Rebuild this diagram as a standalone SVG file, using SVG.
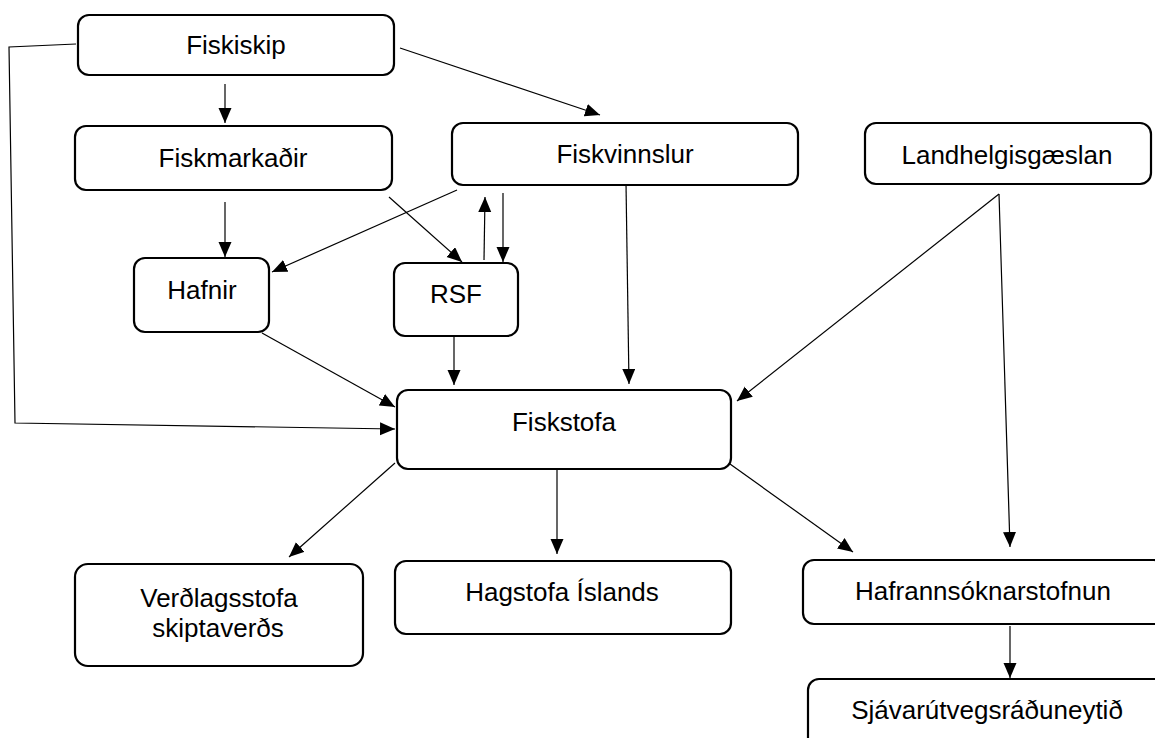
<svg xmlns="http://www.w3.org/2000/svg" width="1155" height="738" viewBox="0 0 1155 738">
<style>
.box{fill:#fff;stroke:#000;stroke-width:2.2}
.lbl{font-family:"Liberation Sans",Arial,sans-serif;font-size:26px;fill:#000;text-anchor:middle}
.con{fill:none;stroke:#000;stroke-width:1.2;marker-end:url(#ah)}
</style>
<defs>
<marker id="ah" markerUnits="userSpaceOnUse" markerWidth="16" markerHeight="14" refX="15" refY="6.5" orient="auto">
<path d="M0,0 L15,6.5 L0,13 z" fill="#000"/>
</marker>
</defs>
<rect width="1155" height="738" fill="#fff"/>
<g id="connectors">
<path class="con" d="M225,84 L225,123"/>
<path class="con" d="M400,48 L600,115"/>
<path class="con" d="M76,44 L9,47 L15,423 L395,429"/>
<path class="con" d="M225,202 L225,257"/>
<path class="con" d="M389,197 L462,262"/>
<path class="con" d="M457,190 L272,272"/>
<path class="con" d="M484,260 L485,197"/>
<path class="con" d="M503,193 L503,262"/>
<path class="con" d="M626,183 L629,384"/>
<path class="con" d="M262,333 L395,407"/>
<path class="con" d="M454,337 L454,385"/>
<path class="con" d="M999,194 L737,401"/>
<path class="con" d="M999,194 L1010,547"/>
<path class="con" d="M395,463 L289,557"/>
<path class="con" d="M557,465 L557,554"/>
<path class="con" d="M730,464 L853,552"/>
<path class="con" d="M1010,626 L1010,678"/>
</g>
<g id="fiskiskip"><rect class="box" x="78" y="15" width="316" height="60" rx="11"/><text class="lbl" x="236" y="54">Fiskiskip</text></g>
<g id="fiskmarkadir"><rect class="box" x="75" y="126" width="317" height="64" rx="11"/><text class="lbl" x="233" y="167">Fiskmarkaðir</text></g>
<g id="fiskvinnslur"><rect class="box" x="452" y="123" width="346" height="62" rx="11"/><text class="lbl" x="625" y="163">Fiskvinnslur</text></g>
<g id="landhelgisgaeslan"><rect class="box" x="865" y="123" width="286" height="61" rx="11"/><text class="lbl" x="1007" y="164">Landhelgisgæslan</text></g>
<g id="hafnir"><rect class="box" x="134" y="258" width="135" height="74" rx="11"/><text class="lbl" x="202" y="299">Hafnir</text></g>
<g id="rsf"><rect class="box" x="394" y="263" width="124" height="73" rx="11"/><text class="lbl" x="456" y="303">RSF</text></g>
<g id="fiskstofa"><rect class="box" x="397" y="390" width="334" height="79" rx="11"/><text class="lbl" x="564" y="431">Fiskstofa</text></g>
<g id="verdlagsstofa"><rect class="box" x="75" y="564" width="288" height="102" rx="13"/><text class="lbl" x="219" y="607">Verðlagsstofa</text><text class="lbl" x="218" y="637">skiptaverðs</text></g>
<g id="hagstofa"><rect class="box" x="395" y="561" width="336" height="73" rx="11"/><text class="lbl" x="562" y="601">Hagstofa Íslands</text></g>
<g id="hafrannsoknarstofnun"><rect class="box" x="803" y="560" width="362" height="64" rx="11"/><text class="lbl" x="983" y="600">Hafrannsóknarstofnun</text></g>
<g id="sjavarutvegsraduneytid"><rect class="box" x="808" y="679" width="362" height="80" rx="11"/><text class="lbl" x="987" y="719">Sjávarútvegsráðuneytið</text></g>
</svg>
